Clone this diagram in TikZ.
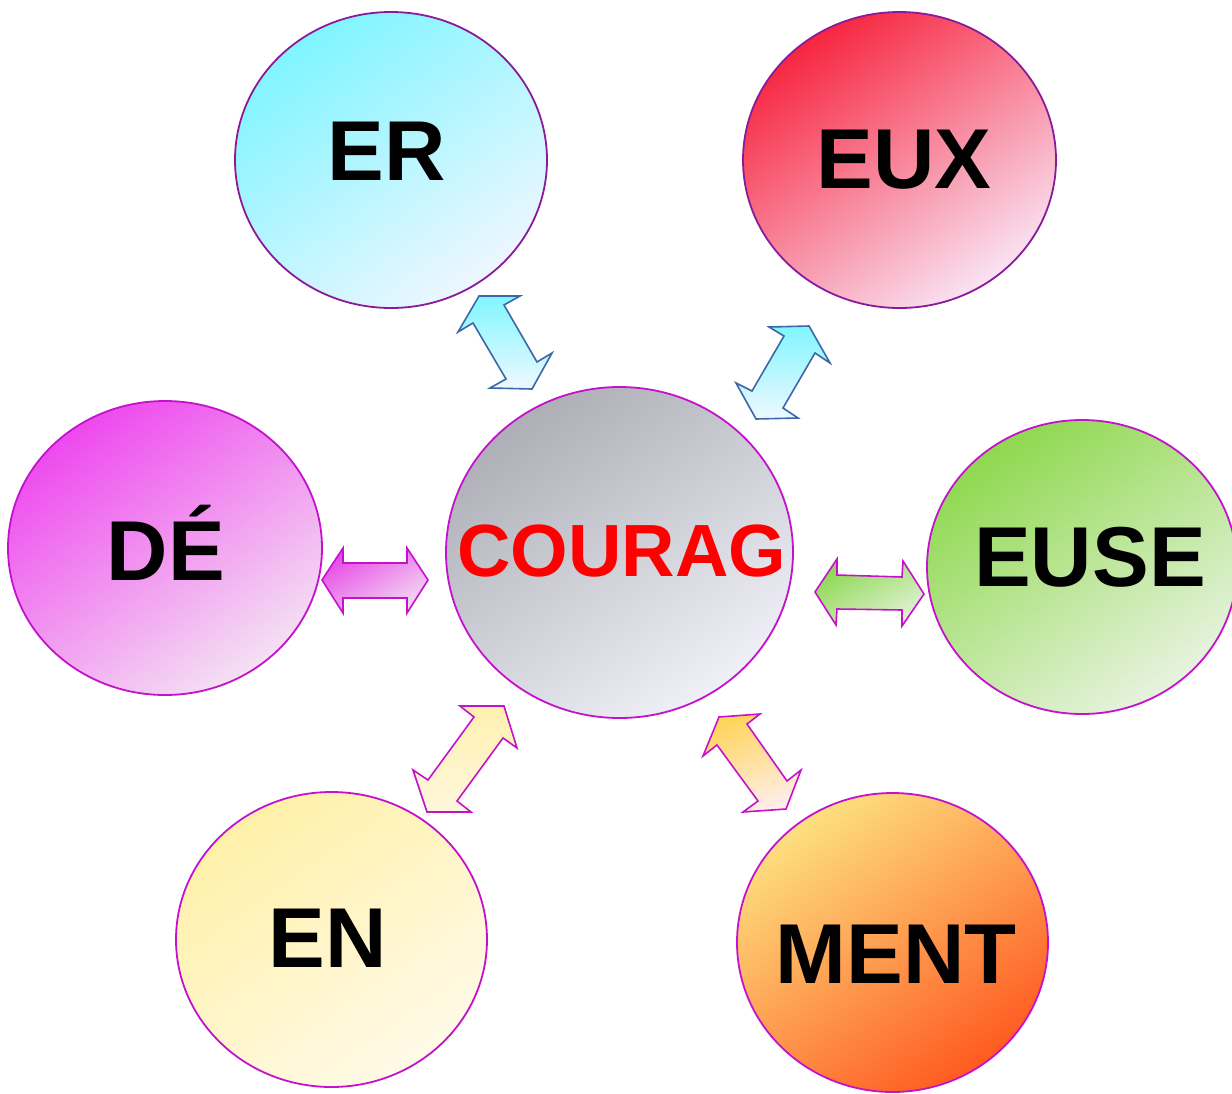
\documentclass[tikz,border=0pt]{standalone}
\usepackage{fontspec}
\setmainfont{Liberation Sans}
\usetikzlibrary{shapes.geometric}
\definecolor{lineP}{HTML}{8B1A9B}
\definecolor{lineM}{HTML}{C412CC}
\definecolor{lineB}{HTML}{3A68A8}
\definecolor{erA}{HTML}{7FF5FF}\definecolor{erB}{HTML}{EEF6FF}
\definecolor{euxA}{HTML}{F7253F}\definecolor{euxM}{HTML}{EF6FA8}\definecolor{euxB}{HTML}{F9E4F4}
\definecolor{deA}{HTML}{EE48EE}\definecolor{deM}{HTML}{E07CDE}\definecolor{deB}{HTML}{F4E2F3}
\definecolor{coA}{HTML}{AEAEB6}\definecolor{coB}{HTML}{F0F0F8}
\definecolor{euA}{HTML}{8ED84E}\definecolor{euB}{HTML}{E8F3E0}
\definecolor{enA}{HTML}{FFF0A8}\definecolor{enB}{HTML}{FFFAE8}
\definecolor{meA}{HTML}{FDE080}\definecolor{meM}{HTML}{FCA55A}\definecolor{meB}{HTML}{FF5A20}
\definecolor{arA}{HTML}{80F6FF}\definecolor{arB}{HTML}{F0F8FF}
\definecolor{daA}{HTML}{E84AE8}\definecolor{daB}{HTML}{F2DAF2}
\definecolor{gaA}{HTML}{8CD850}\definecolor{gaB}{HTML}{E2F1D6}
\definecolor{yaA}{HTML}{FFF0B0}\definecolor{yaB}{HTML}{FFF7DC}
\definecolor{oaA}{HTML}{FFD45A}\definecolor{oaM}{HTML}{FFC494}\definecolor{oaB}{HTML}{FFEEEA}
\definecolor{redT}{HTML}{FF0000}
\begin{document}
\begin{tikzpicture}[x=1pt,y=-1pt,
  bub/.style={ellipse, draw=lineM, line width=1.8pt, inner sep=0pt},
  diag/.style={shading angle=35},
  lbl/.style={anchor=base, inner sep=0pt, font=\fontsize{85}{85}\selectfont\bfseries},
  blk/.style={line width=1.6pt, line join=miter, draw=lineM}]
\useasboundingbox (0,0) rectangle (1232,1093);

% bubbles
\node[bub, draw=lineP, minimum width=312pt, minimum height=296pt, top color=erA, bottom color=erB, diag] (er) at (391,160) {};
\node[bub, draw=lineP, minimum width=313pt, minimum height=296pt, top color=euxA, middle color=euxM, bottom color=euxB, diag] (eux) at (899.5,160) {};
\node[bub, minimum width=314pt, minimum height=294pt, top color=deA, middle color=deM, bottom color=deB, diag] (de) at (165,548) {};
\node[bub, minimum width=347pt, minimum height=331pt, top color=coA, bottom color=coB, diag] (courag) at (619.5,552.5) {};
\node[bub, minimum width=310pt, minimum height=294pt, top color=euA, bottom color=euB, diag] (euse) at (1082,567) {};
\node[bub, minimum width=311pt, minimum height=295pt, top color=enA, bottom color=enB, diag] (en) at (331.5,939.5) {};
\node[bub, minimum width=311pt, minimum height=299pt, top color=meA, middle color=meM, bottom color=meB, diag] (ment) at (892.5,942.5) {};

% labels
\node[lbl] (erT) at (387,180) {ER};
\node[lbl] (euxT) at (904,188) {EUX};
\node[lbl] (deT) at (166,580) {DÉ};
\node[lbl, text=redT, font=\fontsize{74}{74}\selectfont\bfseries] (coT) at (622,576) {COURAG};
\node[lbl] (euseT) at (1090,586) {EUSE};
\node[lbl] (enT) at (328,967) {EN};
\node[lbl] (mentT) at (896,983) {MENT};

% block double arrows
\draw[blk, draw=lineB, top color=arA, bottom color=arB]
  (479,296) -- (520,296) -- (504,305) -- (537,362) -- (552,353) -- (532,389)
  -- (490,388) -- (506,379) -- (473,323) -- (458,332) -- cycle;
\draw[blk, draw=lineB, top color=arA, bottom color=arB]
  (769,327) -- (809,326) -- (830,363) -- (815,353) -- (783,408) -- (798,418)
  -- (756,419) -- (736,383) -- (752,391) -- (784,336) -- cycle;
\draw[blk, top color=daA, bottom color=daB, shading angle=30]
  (322,580) -- (343,548) -- (343,563) -- (407,563) -- (407,548) -- (428,580)
  -- (407,613) -- (407,598) -- (343,598) -- (343,613) -- cycle;
\draw[blk, top color=gaA, bottom color=gaB, shading angle=30]
  (815,592) -- (837,559) -- (837,575) -- (902,577) -- (903,561) -- (924,594)
  -- (902,626) -- (902,610) -- (837,609) -- (836,625) -- cycle;
\draw[blk, top color=yaA, bottom color=yaB]
  (460,706) -- (504,706) -- (517,748) -- (503,738) -- (457,801) -- (471,812)
  -- (427,812) -- (413,770) -- (428,780) -- (474,717) -- cycle;
\draw[blk, top color=oaA, middle color=oaM, bottom color=oaB, shading angle=20]
  (719,717) -- (760,714) -- (747,724) -- (787,781) -- (801,770) -- (786,809)
  -- (743,812) -- (758,801) -- (717,745) -- (703,756) -- cycle;
\end{tikzpicture}
\end{document}
